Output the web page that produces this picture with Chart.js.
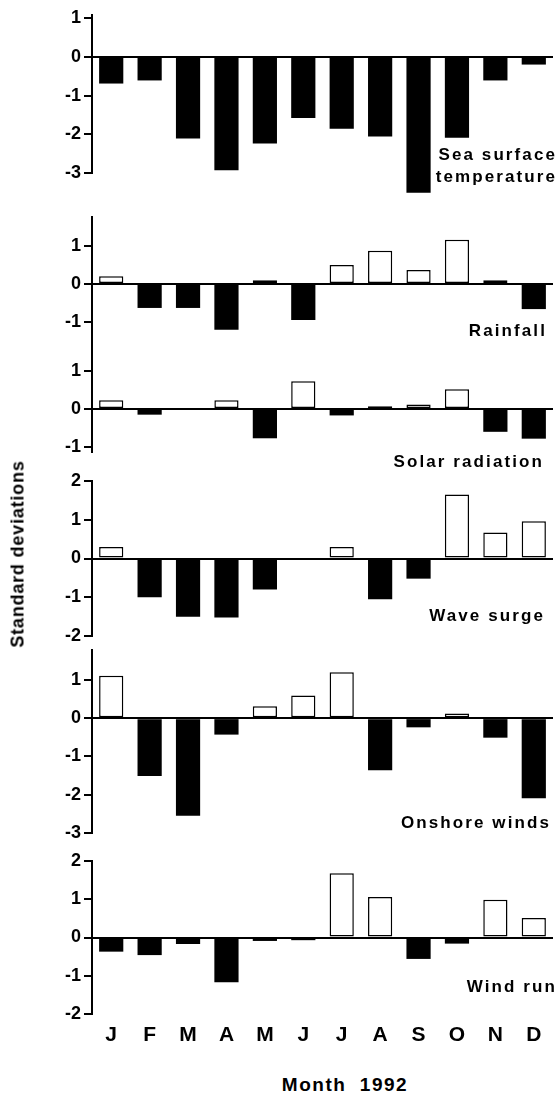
<!DOCTYPE html>
<html lang="en">
<head>
    <meta charset="UTF-8">
    <title>Standard deviations 1992</title>
    <script src="https://cdn.jsdelivr.net/npm/chart.js@4.4.2/dist/chart.umd.min.js"></script>
    <style>
        body { margin: 0; background: #fff; }
        #wrap { position: relative; width: 557px; height: 1093px; overflow: hidden; font-family: "Liberation Sans", Arial, sans-serif; }
        #wrap canvas { position: absolute; left: 0; }
        .lbl { position: absolute; font-weight: bold; color: #000; white-space: pre; }
        #ytitle { left: 18px; top: 554px; font-size: 18px; letter-spacing: 0.8px; transform: translate(-50%, -50%) rotate(-90deg); }
        #xtitle { left: 345px; top: 1085px; font-size: 19px; letter-spacing: 1.5px; transform: translate(-50%, -50%); }
    </style>
</head>
<body>
<div id="wrap">
    <canvas id="c1"></canvas>
    <canvas id="c2"></canvas>
    <canvas id="c3"></canvas>
    <canvas id="c4"></canvas>
    <canvas id="c5"></canvas>
    <canvas id="c6"></canvas>
    <div class="lbl" id="ytitle">Standard deviations</div>
    <div class="lbl" id="xtitle">Month  1992</div>
</div>

<script>
    // data (standard deviations per month)
    const months = ['J', 'F', 'M', 'A', 'M', 'J', 'J', 'A', 'S', 'O', 'N', 'D'];
    const seaSurface = [-0.69, -0.61, -2.11, -2.93, -2.24, -1.58, -1.86, -2.06, -3.51, -2.09, -0.61, -0.2];
    const rainfall   = [0.2, -0.63, -0.63, -1.2, 0.1, -0.95, 0.5, 0.87, 0.37, 1.16, 0.1, -0.66];
    const solar      = [0.23, -0.15, 0, 0.23, -0.77, 0.73, -0.17, 0.07, 0.12, 0.52, -0.6, -0.78];
    const waveSurge  = [0.3, -1.0, -1.5, -1.52, -0.8, 0, 0.3, -1.05, -0.52, 1.65, 0.67, 0.96];
    const onshore    = [1.11, -1.51, -2.55, -0.43, 0.31, 0.59, 1.2, -1.36, -0.24, 0.12, -0.51, -2.09];
    const windRun    = [-0.37, -0.46, -0.17, -1.17, -0.09, -0.07, 1.68, 1.06, -0.56, -0.16, 0.99, 0.51];

    const seaTicks     = [1, 0, -1, -2, -3];
    const rainTicks    = [1, 0, -1];
    const solarTicks   = [1, 0, -1];
    const waveTicks    = [2, 1, 0, -1, -2];
    const onshoreTicks = [1, 0, -1, -2, -3];
    const windTicks    = [2, 1, 0, -1, -2];

    const FONT = '"Liberation Sans", Arial, sans-serif';
    Chart.defaults.font.family = FONT;
    Chart.defaults.color = '#000';

    // panel layout: chart area top/bottom in page pixels, axis extent, name placement
    const panels = [
        { id: 'c1', data: seaSurface, ticks: seaTicks, min: -3, max: 1.08, top: 15, bottom: 173,
          name: ['Sea surface', 'temperature'], dx: 2, dy: -18 },
        { id: 'c2', data: rainfall, ticks: rainTicks, min: -1.63, max: 1.76, top: 217, bottom: 346,
          name: ['Rainfall'], dx: -8, dy: -15 },
        { id: 'c3', data: solar, ticks: solarTicks, min: -1.13, max: 1.6, top: 348, bottom: 452,
          name: ['Solar radiation'], dx: -11, dy: 10 },
        { id: 'c4', data: waveSurge, ticks: waveTicks, min: -2, max: 2, top: 481, bottom: 636,
          name: ['Wave surge'], dx: -10, dy: -20 },
        { id: 'c5', data: onshore, ticks: onshoreTicks, min: -3, max: 1.78, top: 650, bottom: 833,
          name: ['Onshore winds'], dx: -4, dy: -10 },
        { id: 'c6', data: windRun, ticks: windTicks, min: -2, max: 2, top: 861, bottom: 1014,
          name: ['Wind run'], dx: 2, dy: -27, months: true }
    ];

    const PAD_TOP = 24;
    const PAD_BOTTOM = 34;
    const X_HEIGHT = 45;

    const panelName = {
        id: 'panelName',
        afterDatasetsDraw(chart, args, opts) {
            const { ctx, chartArea } = chart;
            ctx.save();
            ctx.font = 'bold 17px ' + FONT;
            ctx.letterSpacing = '2.1px';
            ctx.fillStyle = '#000';
            ctx.textAlign = 'right';
            ctx.textBaseline = 'middle';
            opts.lines.forEach((t, i) => {
                ctx.fillText(t, chartArea.right + opts.dx + 2, chartArea.bottom + opts.dy + i * 22);
            });
            ctx.restore();
        }
    };

    panels.forEach(p => {
        const cv = document.getElementById(p.id);
        const padBottom = p.months ? 0 : PAD_BOTTOM;
        const h = PAD_TOP + (p.bottom - p.top) + (p.months ? X_HEIGHT : padBottom);
        cv.width = 557;
        cv.height = h;
        cv.style.top = (p.top - PAD_TOP) + 'px';

        new Chart(cv, {
            type: 'bar',
            data: {
                labels: months,
                datasets: [{
                    data: p.data,
                    backgroundColor: c => c.raw < 0 ? '#000' : '#fff',
                    borderColor: '#000',
                    borderWidth: c => c.raw < 0 ? 0 : 1.5,
                    borderSkipped: false,
                    barPercentage: 0.63,
                    categoryPercentage: 1,
                    clip: false
                }]
            },
            plugins: [panelName],
            options: {
                responsive: false,
                animation: false,
                layout: { padding: { top: PAD_TOP, bottom: padBottom, left: 0, right: 4 } },
                plugins: {
                    legend: { display: false },
                    tooltip: { enabled: false },
                    panelName: { lines: p.name, dx: p.dx, dy: p.dy }
                },
                scales: {
                    x: {
                        display: !!p.months,
                        grid: { display: false },
                        border: { display: false },
                        ticks: { font: { size: 21, weight: 'bold' }, padding: 1, maxRotation: 0, autoSkip: false },
                        afterFit: s => { s.height = p.months ? X_HEIGHT : 0; }
                    },
                    y: {
                        min: p.min,
                        max: p.max,
                        afterFit: s => { s.width = 92; },
                        afterBuildTicks: s => { s.ticks = p.ticks.map(v => ({ value: v })); },
                        border: { display: true, color: '#000', width: 2 },
                        grid: {
                            color: c => (c.tick && c.tick.value === 0) ? '#000' : 'rgba(0,0,0,0)',
                            lineWidth: 2,
                            tickLength: 8,
                            tickColor: '#000',
                            tickWidth: 2
                        },
                        ticks: { font: { size: 18, weight: 'bold' }, padding: 3 }
                    }
                }
            }
        });
    });
</script>
</body>
</html>
